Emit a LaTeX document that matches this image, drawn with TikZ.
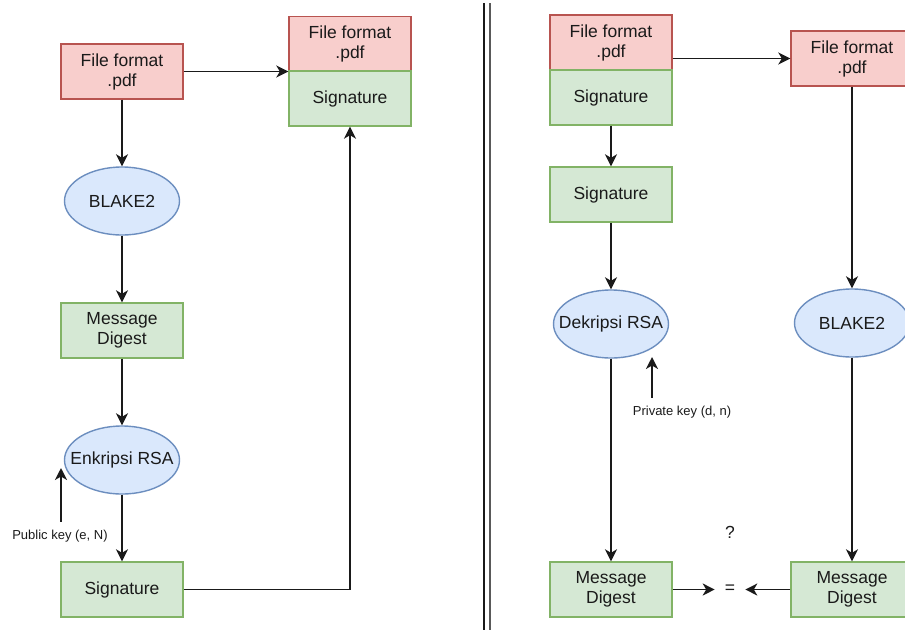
\documentclass[tikz,border=0pt]{standalone}
\usepackage{fontspec}
\setmainfont{Liberation Sans}
\usetikzlibrary{shapes.geometric,arrows.meta}
\definecolor{redfill}{HTML}{F8CECC}
\definecolor{redline}{HTML}{B85450}
\definecolor{greenfill}{HTML}{D5E8D4}
\definecolor{greenline}{HTML}{82B366}
\definecolor{bluefill}{HTML}{DAE8FC}
\definecolor{blueline}{HTML}{6C8EBF}
\definecolor{ink}{HTML}{1A1A1A}
\begin{document}
\begin{tikzpicture}[x=1pt,y=-1pt,
  mainfont/.style={font=\fontsize{17.5}{20}\selectfont,text=ink},
  box/.style={rectangle,draw,line width=1.4pt,minimum width=122pt,minimum height=55pt,inner sep=0pt,align=center,mainfont},
  pdfbox/.style={box,draw=redline,fill=redfill},
  sigbox/.style={box,draw=greenline,fill=greenfill},
  proc/.style={ellipse,draw=blueline,fill=bluefill,line width=1.4pt,minimum width=115pt,minimum height=68pt,inner sep=0pt,label={[mainfont]center:#1}},
  keylabel/.style={font=\fontsize{13}{15}\selectfont,text=ink,inner sep=1pt},
  arr/.style={line width=1.8pt,draw=ink,-{Stealth[length=12pt,width=12pt,inset=3.5pt]}}]
\useasboundingbox (0,0) rectangle (905,630);
\clip (0,0) rectangle (905,630);
% signing
\node[pdfbox] (pdfA) at (122,71.5) {File format\\.pdf};
\node[proc=BLAKE2] (hashA) at (122,201) {};
\node[sigbox] (mdA) at (122,330.5) {Message\\Digest};
\node[proc=Enkripsi RSA] (encA) at (122,460) {};
\node[sigbox] (sigA) at (122,589.5) {Signature};
\node[pdfbox] (pdfB) at (350,44) {File format\\.pdf};
\node[sigbox] (sigB) at (350,98.5) {Signature};
\node[keylabel] (pubkey) at (60,536) {Public key (e, N)};
\coordinate (pubtip) at (61,468);
\draw[arr] (pdfA.east) -- (pdfA.east -| pdfB.west);
\draw[arr] (pdfA) -- (hashA);
\draw[arr] (hashA) -- (mdA);
\draw[arr] (mdA) -- (encA);
\draw[arr] (encA) -- (sigA);
\draw[arr] (sigA.east) -| (sigB.south);
\draw[arr,shorten <=7pt] (pubkey.north -| pubtip) -- (pubtip);
% divider
\foreach \x/\c in {484/ink,490/black!65}
\draw[line width=1.8pt,\c] (\x,3) -- (\x,630);
% verifying
\node[pdfbox] (pdfC) at (611,42.5) {File format\\.pdf};
\node[sigbox] (sigC) at (611,97.5) {Signature};
\node[sigbox] (sigD) at (611,194.5) {Signature};
\node[proc=Dekripsi RSA] (decD) at (611,324) {};
\node[sigbox] (mdD) at (611,589.5) {Message\\Digest};
\node[pdfbox] (pdfE) at (852,58.5) {File format\\.pdf};
\node[proc=BLAKE2] (hashE) at (852,323) {};
\node[sigbox] (mdE) at (852,589.5) {Message\\Digest};
\node[keylabel] (privkey) at (682,412) {Private key (d, n)};
\coordinate (privtip) at (652,357);
\node[mainfont,inner sep=10pt] (eq) at (730,589.5) {=};
\node[mainfont] (ask) at (730,532) {?};
\draw[arr] (pdfE.west -| pdfC.east) -- (pdfE.west);
\draw[arr] (sigC) -- (sigD);
\draw[arr] (sigD) -- (decD);
\draw[arr] (decD) -- (mdD);
\draw[arr] (pdfE) -- (hashE);
\draw[arr] (hashE) -- (mdE);
\draw[arr,shorten <=7pt] (privkey.north -| privtip) -- (privtip);
\draw[arr] (mdD.east) -- (mdD.east -| eq.west);
\draw[arr] (mdE.west) -- (mdE.west -| eq.east);
\end{tikzpicture}
\end{document}
